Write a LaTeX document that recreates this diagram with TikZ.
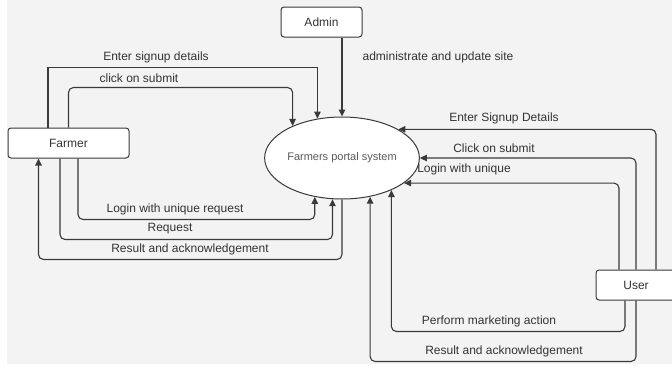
\documentclass[tikz,border=0pt]{standalone}
\usepackage{fontspec}
\setmainfont{Liberation Sans}
\usepackage{xcolor}
\usepackage{tikz}
\usetikzlibrary{arrows.meta,shapes.geometric}
\definecolor{linegray}{HTML}{3A3A3A}
\definecolor{bggray}{HTML}{F3F3F3}
\definecolor{textgray}{HTML}{333333}

\begin{document}
\begin{tikzpicture}[x=1pt,y=-1pt,>={Triangle[length=7pt,width=6.5pt]},
  entity/.style={draw=linegray,fill=white,rounded corners=3pt,minimum height=30pt,inner sep=0pt,line width=1pt,font=\fontsize{12}{14}\selectfont,text=textgray},
  proc/.style={ellipse,draw=linegray,fill=white,minimum width=122pt,minimum height=82pt,inner sep=0pt,line width=1pt,font=\fontsize{11}{13}\selectfont,text=black!65},
  flow/.style={->,draw=linegray,line width=1.1pt,rounded corners=5pt},
  lbl/.style={font=\fontsize{12}{14}\selectfont,text=textgray,inner sep=0pt}]
\useasboundingbox(0,0)rectangle(672,367);
\fill[bggray](7,0)rectangle(672,364);
\node[entity,minimum width=81pt](admin)at(321.5,22){Admin};
\node[entity,minimum width=121pt](farmer)at(68.5,143){Farmer};
\node[entity,minimum width=80pt](user)at(636,285){User};
\node[proc](sys)at(342,158){Farmers portal system};
%farmer side
\draw[flow,rounded corners=0pt]([xshift=-20.5pt]farmer.north)--++(0,-60)-|(sys.122.5);
\draw[flow](farmer.north)--++(0,-40)-|(sys.147.2);
\draw[flow]([xshift=9.5pt]farmer.south)--++(0,61)-|(sys.235);
\draw[flow]([xshift=-8.5pt]farmer.south)--++(0,81)-|(sys.257.5);
\draw[flow](sys.south)--++(0,60)-|([xshift=-30pt]farmer.south);
\draw[flow]([xshift=20.5pt]admin.south)--(sys.north);
%user side
\draw[flow]([xshift=20pt]user.north)|-(sys.27.4);
\draw[flow](user.north)|-(sys.east);
\draw[flow]([xshift=-17pt]user.north)|-(sys.338.2);
\draw[flow]([xshift=-11pt]user.south)--++(0,31)-|(sys.327.2);
\draw[flow](user.south)--++(0,61)-|(sys.306.3);
%labels
\node[lbl](l1)at(156,57){Enter signup details};
\node[lbl](l2)at(139,78){click on submit};
\node[lbl](l3)at(438,57){administrate and update site};
\node[lbl](l4)at(175,209){Login with unique request};
\node[lbl](l5)at(170,229){Request};
\node[lbl](l6)at(190,249){Result and acknowledgement};
\node[lbl](l7)at(504,118){Enter Signup Details};
\node[lbl](l8)at(494,148){Click on submit};
\node[lbl](l9)at(464,169){Login with unique};
\node[lbl](l10)at(489,321){Perform marketing action};
\node[lbl](l11)at(504,351){Result and acknowledgement};
\end{tikzpicture}
\end{document}
